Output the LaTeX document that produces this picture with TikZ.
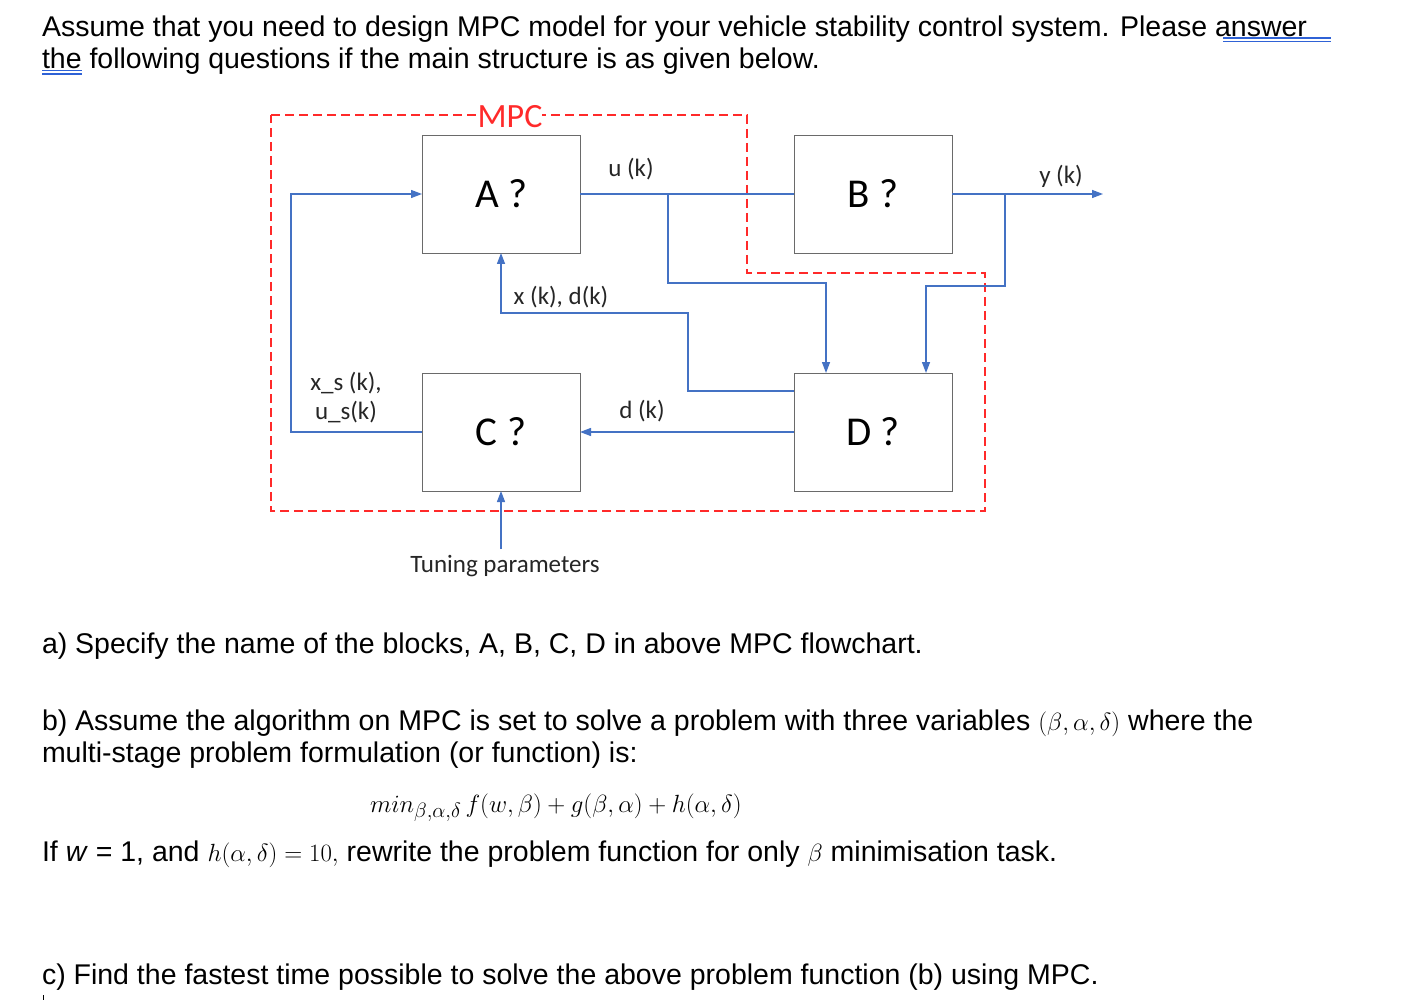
\documentclass[tikz,border=0pt]{standalone}
\usepackage{fontspec}
\setmainfont{Liberation Sans}
\newfontfamily\diagfont{Carlito}
\usetikzlibrary{arrows.meta}
\definecolor{lineblue}{HTML}{4472C4}
\definecolor{ulblue}{HTML}{2F62D6}
\definecolor{mpcred}{HTML}{FF2A2A}
\definecolor{boxgray}{HTML}{6A6A6A}
\begin{document}
\begin{tikzpicture}[x=1pt,y=-1pt,
  txt/.style={font=\fontsize{28.5}{32}\selectfont, inner sep=0pt, outer sep=0pt, anchor=base west},
  blk/.style={draw=boxgray, line width=0.9pt, minimum width=158pt, minimum height=118pt, inner sep=0pt, outer sep=0pt, font=\diagfont\fontsize{41}{44}\selectfont},
  lbl/.style={font=\diagfont\fontsize{25}{29}\selectfont, inner sep=0pt, outer sep=0pt, text=black!85},
  conn/.style={draw=lineblue, line width=1.3pt, -{Triangle[length=11pt,width=8pt]}},
  wire/.style={draw=lineblue, line width=1.3pt},
  mpcline/.style={draw=mpcred, line width=1.4pt, dash pattern=on 9pt off 5pt},
  ul/.style={draw=ulblue, line width=1.3pt}]
\useasboundingbox (0,0) rectangle (1408,1000);
\fill[white] (0,0) rectangle (1408,1000);

% text
\node[txt] (l1) at (42,37) {Assume that you need to design MPC model for your vehicle stability control system. Please answer};
\node[txt] (l2) at (42,69) {the following questions if the main structure is as given below.};
\draw[ul] (1223,38) -- (1331,38);
\draw[ul] (1223,41.5) -- (1331,41.5);
\draw[ul] (42,70.5) -- (82,70.5);
\draw[ul] (42,74) -- (82,74);

% blocks
\node[blk] (A) at (501,194) {A ?};
\node[blk] (B) at (873,194) {B ?};
\node[blk] (C) at (501,432) {C ?};
\node[blk] (D) at (873,432) {D ?};

% MPC frame
\draw[mpcline] (271,115) -- (747,115) -- (747,273) -- (985,273) -- (985,511) -- (271,511) -- cycle;
\node[fill=white, inner sep=0pt, minimum width=64pt, minimum height=34pt, text=mpcred, font=\diagfont\fontsize{34}{36}\selectfont] (mpc) at (510,117) {MPC};

% coordinates
\coordinate (j1) at (668,194);
\coordinate (j1b) at (668,283);
\coordinate (j2) at (1005,194);
\coordinate (j2b) at (1005,286);
\coordinate (yout) at (1103,194);
\coordinate (fb1) at (291,432);
\coordinate (xk1) at (688,391);
\coordinate (xk2) at (688,313);
\coordinate (tp) at (501,549);

% connectors
\draw[conn] (C.west) -- (fb1) |- (A.west);
\draw[wire] (A.east) -- (B.west);
\draw[conn] (j1) -- (j1b) -| ([xshift=-47pt]D.north);
\draw[conn] (B.east) -- (yout);
\draw[conn] (j2) -- (j2b) -| ([xshift=53pt]D.north);
\draw[conn] ([yshift=41pt]D.west) -- (xk1) -- (xk2) -| (A.south);
\draw[conn] (D.west) -- (C.east);
\draw[conn] (tp) -- (C.south);

% labels
\node[lbl] (uk) at (631,169) {u (k)};
\node[lbl] (yk) at (1061,176) {y (k)};
\node[lbl] (xdk) at (561,297) {x (k), d(k)};
\node[lbl, align=center] (xs) at (346,398) {x\_s (k),\\u\_s(k)};
\node[lbl] (dk) at (642,411) {d (k)};
\node[lbl] (tune) at (505,566) {Tuning parameters};

% questions
\node[txt] (qa) at (42,653) {a) Specify the name of the blocks, A, B, C, D in above MPC flowchart.};
\node[txt] (qb) at (42,730) {b) Assume the algorithm on MPC is set to solve a problem with three variables $(\beta,\alpha,\delta)$ where the};
\node[txt] (qb2) at (42,762) {multi-stage problem formulation (or function) is:};
\node[txt, font=\fontsize{30.5}{34}\selectfont] (eq) at (370,812) {$min_{\beta,\alpha,\delta}\, f(w,\beta)+g(\beta,\alpha)+h(\alpha,\delta)$};
\node[txt] (qif) at (42,861) {If \textit{w} = 1, and $h(\alpha,\delta)=10,$ rewrite the problem function for only $\beta$ minimisation task.};
\node[txt] (qc) at (42,984) {c) Find the fastest time possible to solve the above problem function (b) using MPC.};
\draw[black, line width=1pt] (43,995) -- (43,1000);
\end{tikzpicture}
\end{document}
